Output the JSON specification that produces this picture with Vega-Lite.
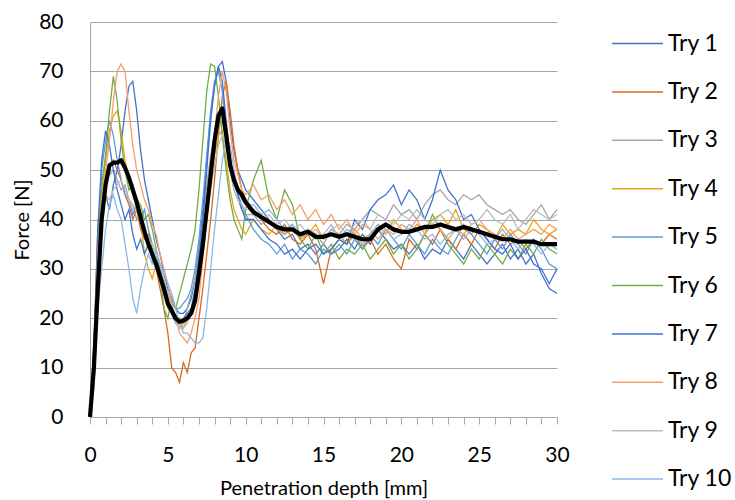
{
"$schema": "https://vega.github.io/schema/vega-lite/v6.json",
"width": 467, "height": 395,
"autosize": {"type": "none"},
"padding": {"left": 90, "top": 22, "right": 178, "bottom": 83},
"config": {"view": {"stroke": null}, "font": "Lato", "axis": {"labelColor": "black", "titleColor": "black", "titleFontWeight": "normal"}},
"data": {"values": [
{"depth":0,"Try 1":0,"Try 2":0,"Try 3":0,"Try 4":0,"Try 5":0,"Try 6":0,"Try 7":0,"Try 8":0,"Try 9":0,"Try 10":0,"mean":0},
{"depth":0.25,"Try 1":8,"Try 2":14,"Try 3":12,"Try 4":15,"Try 5":10,"Try 6":13,"Try 7":12,"Try 8":11,"Try 9":10,"Try 10":6,"mean":10},
{"depth":0.5,"Try 1":26,"Try 2":38,"Try 3":34,"Try 4":36,"Try 5":30,"Try 6":35,"Try 7":38,"Try 8":33,"Try 9":32,"Try 10":22,"mean":26},
{"depth":0.75,"Try 1":40,"Try 2":46,"Try 3":44,"Try 4":45,"Try 5":50,"Try 6":47,"Try 7":52,"Try 8":44,"Try 9":42,"Try 10":30,"mean":40},
{"depth":1,"Try 1":45,"Try 2":49,"Try 3":47,"Try 4":52,"Try 5":56,"Try 6":53,"Try 7":58,"Try 8":50,"Try 9":45,"Try 10":38,"mean":47},
{"depth":1.25,"Try 1":42,"Try 2":51,"Try 3":49,"Try 4":58,"Try 5":60,"Try 6":62,"Try 7":55,"Try 8":56,"Try 9":44,"Try 10":43,"mean":51},
{"depth":1.5,"Try 1":47,"Try 2":52,"Try 3":50,"Try 4":61,"Try 5":57,"Try 6":69,"Try 7":50,"Try 8":64,"Try 9":46,"Try 10":45,"mean":51.5},
{"depth":1.75,"Try 1":50,"Try 2":50,"Try 3":48,"Try 4":62,"Try 5":52,"Try 6":64,"Try 7":46,"Try 8":70,"Try 9":47,"Try 10":42,"mean":51.5},
{"depth":2,"Try 1":55,"Try 2":48,"Try 3":46,"Try 4":58,"Try 5":48,"Try 6":56,"Try 7":43,"Try 8":71.5,"Try 9":48,"Try 10":40,"mean":52},
{"depth":2.25,"Try 1":62,"Try 2":45,"Try 3":47,"Try 4":52,"Try 5":45,"Try 6":50,"Try 7":40,"Try 8":70,"Try 9":46,"Try 10":35,"mean":50.5},
{"depth":2.5,"Try 1":67,"Try 2":43,"Try 3":44,"Try 4":48,"Try 5":44,"Try 6":46,"Try 7":42,"Try 8":62,"Try 9":44,"Try 10":30,"mean":48.5},
{"depth":2.75,"Try 1":68,"Try 2":40,"Try 3":43,"Try 4":45,"Try 5":41,"Try 6":47,"Try 7":37,"Try 8":55,"Try 9":42,"Try 10":24,"mean":46},
{"depth":3,"Try 1":62,"Try 2":42,"Try 3":40,"Try 4":42,"Try 5":43,"Try 6":44,"Try 7":34,"Try 8":50,"Try 9":43,"Try 10":21,"mean":43.5},
{"depth":3.25,"Try 1":54,"Try 2":38,"Try 3":41,"Try 4":40,"Try 5":40,"Try 6":43,"Try 7":36,"Try 8":47,"Try 9":40,"Try 10":26,"mean":40.5},
{"depth":3.5,"Try 1":48,"Try 2":36,"Try 3":38,"Try 4":33,"Try 5":42,"Try 6":40,"Try 7":33,"Try 8":44,"Try 9":39,"Try 10":30,"mean":37.5},
{"depth":3.75,"Try 1":44,"Try 2":37,"Try 3":35,"Try 4":30,"Try 5":38,"Try 6":41,"Try 7":35,"Try 8":42,"Try 9":36,"Try 10":33,"mean":35},
{"depth":4,"Try 1":40,"Try 2":34,"Try 3":33,"Try 4":28,"Try 5":35,"Try 6":38,"Try 7":32,"Try 8":39,"Try 9":35,"Try 10":31,"mean":33},
{"depth":4.25,"Try 1":36,"Try 2":30,"Try 3":31,"Try 4":31,"Try 5":33,"Try 6":34,"Try 7":30,"Try 8":37,"Try 9":33,"Try 10":34,"mean":31},
{"depth":4.5,"Try 1":33,"Try 2":26,"Try 3":28,"Try 4":27,"Try 5":30,"Try 6":29,"Try 7":28,"Try 8":33,"Try 9":31,"Try 10":31,"mean":28.5},
{"depth":4.75,"Try 1":29,"Try 2":22,"Try 3":26,"Try 4":25,"Try 5":27,"Try 6":22,"Try 7":25,"Try 8":30,"Try 9":28,"Try 10":29,"mean":26},
{"depth":5,"Try 1":26,"Try 2":17,"Try 3":24,"Try 4":22,"Try 5":25,"Try 6":20,"Try 7":23,"Try 8":27,"Try 9":25,"Try 10":27,"mean":23},
{"depth":5.25,"Try 1":24,"Try 2":10,"Try 3":21,"Try 4":21,"Try 5":23,"Try 6":24,"Try 7":21,"Try 8":23,"Try 9":22,"Try 10":25,"mean":21.5},
{"depth":5.5,"Try 1":22,"Try 2":9,"Try 3":20,"Try 4":19,"Try 5":22,"Try 6":22,"Try 7":19,"Try 8":20,"Try 9":19,"Try 10":22,"mean":20},
{"depth":5.75,"Try 1":21,"Try 2":7,"Try 3":18,"Try 4":20,"Try 5":22,"Try 6":25,"Try 7":19,"Try 8":17,"Try 9":18,"Try 10":19,"mean":19.3},
{"depth":6,"Try 1":21,"Try 2":11,"Try 3":19,"Try 4":18,"Try 5":23,"Try 6":28,"Try 7":20,"Try 8":16,"Try 9":18,"Try 10":17,"mean":19.5},
{"depth":6.25,"Try 1":22,"Try 2":9,"Try 3":22,"Try 4":20,"Try 5":24,"Try 6":31,"Try 7":21,"Try 8":15,"Try 9":19,"Try 10":17,"mean":20},
{"depth":6.5,"Try 1":24,"Try 2":13,"Try 3":25,"Try 4":22,"Try 5":26,"Try 6":34,"Try 7":22,"Try 8":17,"Try 9":21,"Try 10":16,"mean":21},
{"depth":6.75,"Try 1":28,"Try 2":14,"Try 3":28,"Try 4":25,"Try 5":30,"Try 6":38,"Try 7":26,"Try 8":20,"Try 9":24,"Try 10":15,"mean":23.5},
{"depth":7,"Try 1":34,"Try 2":20,"Try 3":33,"Try 4":30,"Try 5":36,"Try 6":46,"Try 7":32,"Try 8":24,"Try 9":28,"Try 10":15,"mean":29},
{"depth":7.25,"Try 1":42,"Try 2":26,"Try 3":40,"Try 4":37,"Try 5":44,"Try 6":56,"Try 7":40,"Try 8":32,"Try 9":34,"Try 10":16,"mean":35},
{"depth":7.5,"Try 1":52,"Try 2":33,"Try 3":47,"Try 4":43,"Try 5":53,"Try 6":66,"Try 7":50,"Try 8":40,"Try 9":40,"Try 10":22,"mean":42},
{"depth":7.75,"Try 1":61,"Try 2":40,"Try 3":53,"Try 4":48,"Try 5":62,"Try 6":71.5,"Try 7":60,"Try 8":49,"Try 9":46,"Try 10":30,"mean":49},
{"depth":8,"Try 1":67,"Try 2":48,"Try 3":57,"Try 4":53,"Try 5":68,"Try 6":71,"Try 7":67,"Try 8":57,"Try 9":51,"Try 10":38,"mean":56},
{"depth":8.25,"Try 1":71,"Try 2":57,"Try 3":59,"Try 4":57,"Try 5":70,"Try 6":65,"Try 7":71,"Try 8":65,"Try 9":55,"Try 10":45,"mean":61},
{"depth":8.5,"Try 1":72,"Try 2":65,"Try 3":60,"Try 4":58,"Try 5":66,"Try 6":57,"Try 7":68,"Try 8":70,"Try 9":57,"Try 10":52,"mean":62.5},
{"depth":8.75,"Try 1":68,"Try 2":68,"Try 3":56,"Try 4":52,"Try 5":58,"Try 6":50,"Try 7":60,"Try 8":66,"Try 9":55,"Try 10":56,"mean":57},
{"depth":9,"Try 1":60,"Try 2":62,"Try 3":50,"Try 4":46,"Try 5":52,"Try 6":44,"Try 7":53,"Try 8":58,"Try 9":50,"Try 10":55,"mean":51},
{"depth":9.25,"Try 1":54,"Try 2":55,"Try 3":46,"Try 4":42,"Try 5":48,"Try 6":40,"Try 7":48,"Try 8":52,"Try 9":46,"Try 10":50,"mean":48},
{"depth":9.5,"Try 1":50,"Try 2":50,"Try 3":44,"Try 4":40,"Try 5":45,"Try 6":38,"Try 7":45,"Try 8":49,"Try 9":44,"Try 10":46,"mean":46},
{"depth":9.75,"Try 1":48,"Try 2":46,"Try 3":42,"Try 4":38,"Try 5":43,"Try 6":36,"Try 7":42,"Try 8":46,"Try 9":43,"Try 10":44,"mean":45},
{"depth":10,"Try 1":46,"Try 2":44,"Try 3":41,"Try 4":37,"Try 5":41,"Try 6":42,"Try 7":40,"Try 8":45,"Try 9":42,"Try 10":43,"mean":43.5},
{"depth":10.5,"Try 1":44,"Try 2":42,"Try 3":41,"Try 4":40,"Try 5":38,"Try 6":48,"Try 7":40,"Try 8":47,"Try 9":42,"Try 10":43,"mean":41.5},
{"depth":11,"Try 1":42,"Try 2":40,"Try 3":39,"Try 4":38,"Try 5":36,"Try 6":52,"Try 7":38,"Try 8":44,"Try 9":40,"Try 10":41,"mean":40.5},
{"depth":11.5,"Try 1":40,"Try 2":38,"Try 3":40,"Try 4":37,"Try 5":35,"Try 6":44,"Try 7":36,"Try 8":45,"Try 9":41,"Try 10":42,"mean":39.5},
{"depth":12,"Try 1":38,"Try 2":37,"Try 3":38,"Try 4":39,"Try 5":33,"Try 6":40,"Try 7":35,"Try 8":42,"Try 9":39,"Try 10":40,"mean":38.5},
{"depth":12.5,"Try 1":36,"Try 2":39,"Try 3":37,"Try 4":37,"Try 5":35,"Try 6":46,"Try 7":33,"Try 8":44,"Try 9":40,"Try 10":38,"mean":38},
{"depth":13,"Try 1":37,"Try 2":36,"Try 3":39,"Try 4":38,"Try 5":32,"Try 6":43,"Try 7":34,"Try 8":41,"Try 9":38,"Try 10":39,"mean":38},
{"depth":13.5,"Try 1":34,"Try 2":35,"Try 3":36,"Try 4":36,"Try 5":34,"Try 6":36,"Try 7":32,"Try 8":43,"Try 9":39,"Try 10":37,"mean":37},
{"depth":14,"Try 1":35,"Try 2":37,"Try 3":38,"Try 4":37,"Try 5":33,"Try 6":34,"Try 7":34,"Try 8":40,"Try 9":37,"Try 10":38,"mean":37.5},
{"depth":14.5,"Try 1":33,"Try 2":34,"Try 3":37,"Try 4":39,"Try 5":31,"Try 6":37,"Try 7":35,"Try 8":42,"Try 9":38,"Try 10":36,"mean":36.5},
{"depth":15,"Try 1":35,"Try 2":27,"Try 3":35,"Try 4":36,"Try 5":34,"Try 6":33,"Try 7":33,"Try 8":39,"Try 9":36,"Try 10":37,"mean":36.5},
{"depth":15.5,"Try 1":33,"Try 2":34,"Try 3":38,"Try 4":38,"Try 5":33,"Try 6":35,"Try 7":34,"Try 8":41,"Try 9":38,"Try 10":39,"mean":37},
{"depth":16,"Try 1":34,"Try 2":36,"Try 3":37,"Try 4":37,"Try 5":35,"Try 6":32,"Try 7":36,"Try 8":38,"Try 9":39,"Try 10":36,"mean":36.5},
{"depth":16.5,"Try 1":36,"Try 2":35,"Try 3":39,"Try 4":35,"Try 5":33,"Try 6":34,"Try 7":35,"Try 8":40,"Try 9":37,"Try 10":38,"mean":37},
{"depth":17,"Try 1":34,"Try 2":37,"Try 3":38,"Try 4":38,"Try 5":36,"Try 6":33,"Try 7":40,"Try 8":37,"Try 9":39,"Try 10":37,"mean":36.5},
{"depth":17.5,"Try 1":37,"Try 2":34,"Try 3":40,"Try 4":36,"Try 5":34,"Try 6":35,"Try 7":38,"Try 8":39,"Try 9":40,"Try 10":35,"mean":36},
{"depth":18,"Try 1":35,"Try 2":36,"Try 3":42,"Try 4":37,"Try 5":37,"Try 6":32,"Try 7":42,"Try 8":38,"Try 9":38,"Try 10":37,"mean":36},
{"depth":18.5,"Try 1":38,"Try 2":33,"Try 3":41,"Try 4":39,"Try 5":35,"Try 6":34,"Try 7":44,"Try 8":36,"Try 9":41,"Try 10":39,"mean":38},
{"depth":19,"Try 1":36,"Try 2":35,"Try 3":40,"Try 4":37,"Try 5":38,"Try 6":36,"Try 7":45,"Try 8":38,"Try 9":40,"Try 10":38,"mean":39},
{"depth":19.5,"Try 1":34,"Try 2":32,"Try 3":43,"Try 4":40,"Try 5":36,"Try 6":33,"Try 7":47,"Try 8":37,"Try 9":39,"Try 10":36,"mean":38},
{"depth":20,"Try 1":35,"Try 2":30,"Try 3":41,"Try 4":38,"Try 5":34,"Try 6":35,"Try 7":43,"Try 8":39,"Try 9":41,"Try 10":37,"mean":37.5},
{"depth":20.5,"Try 1":33,"Try 2":36,"Try 3":42,"Try 4":37,"Try 5":37,"Try 6":32,"Try 7":46,"Try 8":38,"Try 9":40,"Try 10":39,"mean":37.5},
{"depth":21,"Try 1":35,"Try 2":34,"Try 3":40,"Try 4":39,"Try 5":35,"Try 6":34,"Try 7":44,"Try 8":40,"Try 9":42,"Try 10":38,"mean":38},
{"depth":21.5,"Try 1":32,"Try 2":37,"Try 3":43,"Try 4":38,"Try 5":33,"Try 6":37,"Try 7":40,"Try 8":37,"Try 9":40,"Try 10":36,"mean":38.5},
{"depth":22,"Try 1":34,"Try 2":35,"Try 3":45,"Try 4":40,"Try 5":36,"Try 6":41,"Try 7":44,"Try 8":39,"Try 9":39,"Try 10":37,"mean":38.5},
{"depth":22.5,"Try 1":33,"Try 2":38,"Try 3":46,"Try 4":41,"Try 5":34,"Try 6":38,"Try 7":50,"Try 8":38,"Try 9":41,"Try 10":35,"mean":39},
{"depth":23,"Try 1":36,"Try 2":36,"Try 3":44,"Try 4":39,"Try 5":33,"Try 6":35,"Try 7":46,"Try 8":36,"Try 9":42,"Try 10":37,"mean":38.5},
{"depth":23.5,"Try 1":34,"Try 2":34,"Try 3":43,"Try 4":42,"Try 5":36,"Try 6":33,"Try 7":44,"Try 8":38,"Try 9":40,"Try 10":38,"mean":38},
{"depth":24,"Try 1":32,"Try 2":37,"Try 3":45,"Try 4":38,"Try 5":39,"Try 6":31,"Try 7":40,"Try 8":37,"Try 9":41,"Try 10":36,"mean":38.5},
{"depth":24.5,"Try 1":35,"Try 2":35,"Try 3":44,"Try 4":37,"Try 5":37,"Try 6":34,"Try 7":41,"Try 8":39,"Try 9":39,"Try 10":38,"mean":38},
{"depth":25,"Try 1":33,"Try 2":38,"Try 3":45,"Try 4":39,"Try 5":35,"Try 6":32,"Try 7":38,"Try 8":40,"Try 9":40,"Try 10":37,"mean":37.5},
{"depth":25.5,"Try 1":31,"Try 2":36,"Try 3":43,"Try 4":38,"Try 5":33,"Try 6":35,"Try 7":36,"Try 8":38,"Try 9":42,"Try 10":35,"mean":37},
{"depth":26,"Try 1":33,"Try 2":34,"Try 3":42,"Try 4":36,"Try 5":36,"Try 6":33,"Try 7":34,"Try 8":37,"Try 9":40,"Try 10":36,"mean":36.5},
{"depth":26.5,"Try 1":35,"Try 2":37,"Try 3":41,"Try 4":39,"Try 5":34,"Try 6":31,"Try 7":33,"Try 8":36,"Try 9":39,"Try 10":38,"mean":36},
{"depth":27,"Try 1":32,"Try 2":35,"Try 3":42,"Try 4":37,"Try 5":37,"Try 6":34,"Try 7":35,"Try 8":38,"Try 9":41,"Try 10":36,"mean":36},
{"depth":27.5,"Try 1":34,"Try 2":36,"Try 3":40,"Try 4":38,"Try 5":35,"Try 6":32,"Try 7":32,"Try 8":36,"Try 9":38,"Try 10":34,"mean":35.5},
{"depth":28,"Try 1":31,"Try 2":34,"Try 3":39,"Try 4":37,"Try 5":33,"Try 6":35,"Try 7":34,"Try 8":37,"Try 9":40,"Try 10":36,"mean":35.5},
{"depth":28.5,"Try 1":33,"Try 2":36,"Try 3":41,"Try 4":40,"Try 5":36,"Try 6":33,"Try 7":31,"Try 8":38,"Try 9":42,"Try 10":35,"mean":35.5},
{"depth":29,"Try 1":29,"Try 2":35,"Try 3":43,"Try 4":38,"Try 5":34,"Try 6":36,"Try 7":30,"Try 8":37,"Try 9":41,"Try 10":33,"mean":35},
{"depth":29.5,"Try 1":26,"Try 2":37,"Try 3":40,"Try 4":37,"Try 5":31,"Try 6":34,"Try 7":27,"Try 8":39,"Try 9":40,"Try 10":35,"mean":35},
{"depth":30,"Try 1":25,"Try 2":36,"Try 3":42,"Try 4":38,"Try 5":30,"Try 6":33,"Try 7":30,"Try 8":38,"Try 9":41,"Try 10":34,"mean":35}
]},
"encoding": {
"x": {"field": "depth", "type": "quantitative", "scale": {"domain": [0,30], "nice": false},
"axis": {"title": "Penetration depth [mm]", "values": [0,1,2,3,4,5,6,7,8,9,10,11,12,13,14,15,16,17,18,19,20,21,22,23,24,25,26,27,28,29,30], "labelExpr": "datum.value % 5 === 0 ? datum.label : ''", "labelOverlap": false, "labelFlush": false, "grid": false, "domainColor": "#A6A6A6", "tickColor": "#A6A6A6", "tickSize": 7, "labelFontSize": 21, "labelPadding": 20, "titleFontSize": 20, "titleY": 71, "titleBaseline": "middle"}}
},
"layer": [
{
"transform": [{"fold": ["Try 1","Try 2","Try 3","Try 4","Try 5","Try 6","Try 7","Try 8","Try 9","Try 10"], "as": ["series","force"]}],
"mark": {"type": "line", "strokeWidth": 1.3},
"encoding": {
"y": {"field": "force", "type": "quantitative", "scale": {"domain": [0,80], "nice": false},
"axis": {"title": "Force [N]", "values": [0,10,20,30,40,50,60,70,80], "grid": true, "gridColor": "#A6A6A6", "gridWidth": 1.2, "domainColor": "#A6A6A6", "ticks": false, "tickSize": 0, "labelPadding": 27, "labelFontSize": 21, "titleFontSize": 20, "titleX": -68, "titleBaseline": "middle"}},
"color": {"field": "series", "type": "nominal",
"scale": {"domain": ["Try 1","Try 2","Try 3","Try 4","Try 5","Try 6","Try 7","Try 8","Try 9","Try 10"], "range": ["#4472C4","#D9691F","#A5A5A5","#E8A317","#5B9BD5","#70AD47","#3D72D4","#F4A06A","#BDBDBD","#8CB8E8"]},
"legend": {"title": null, "orient": "none", "legendX": 521, "legendY": -5, "symbolType": "stroke", "symbolSize": 2601, "symbolStrokeWidth": 1.5, "labelFontSize": 23, "labelColor": "black", "labelOffset": 4, "rowPadding": 9.4}}
}
},
{
"mark": {"type": "line", "color": "black", "strokeWidth": 4.2, "strokeJoin": "round"},
"encoding": {
"y": {"field": "mean", "type": "quantitative", "scale": {"domain": [0,80], "nice": false},
"axis": {"title": "Force [N]", "values": [0,10,20,30,40,50,60,70,80], "grid": true, "gridColor": "#A6A6A6", "gridWidth": 1.2, "domainColor": "#A6A6A6", "ticks": false, "tickSize": 0, "labelPadding": 27, "labelFontSize": 21, "titleFontSize": 20, "titleX": -68, "titleBaseline": "middle"}}
}
}
]
}
